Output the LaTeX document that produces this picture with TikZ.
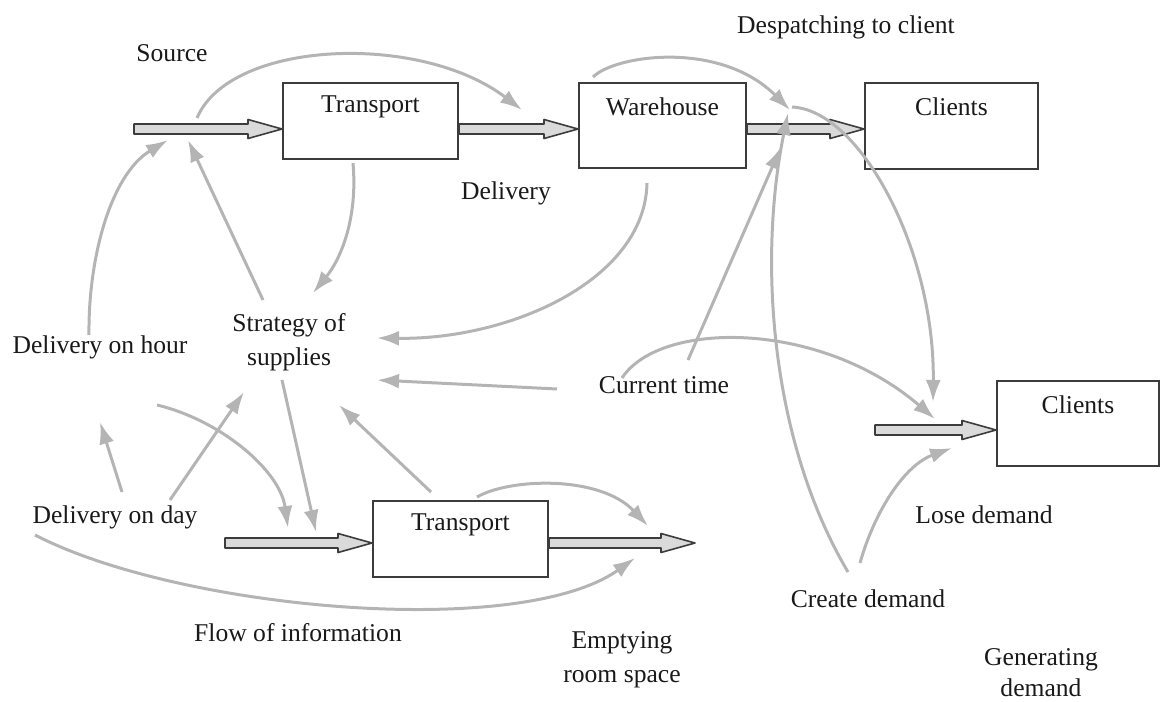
\documentclass[tikz,border=0pt]{standalone}
\usepackage{fontspec}
\setmainfont{Liberation Serif}
\usetikzlibrary{arrows.meta,calc}
\definecolor{linkgray}{HTML}{B4B4B4}
\definecolor{boxline}{HTML}{3C3C3C}
\definecolor{pipefill}{HTML}{DADADA}
% thick flow pipe from #1 to #2 (horizontal)
\newcommand{\flowarrow}[2]{%
  \draw[pipe] ($(#1)+(0,-5)$) -- ($(#2)+(-34,-5)$) -- ($(#2)+(-34,-9.5)$) -- (#2)
    -- ($(#2)+(-34,9.5)$) -- ($(#2)+(-34,5)$) -- ($(#1)+(0,5)$) -- cycle;}
\begin{document}
\begin{tikzpicture}[x=0.5pt, y=-0.5pt,
  font=\fontsize{12.8}{17}\selectfont,
  stock/.style={draw=boxline, line width=1pt, inner sep=0pt},
  boxtitle/.style={anchor=center, yshift=-12.5pt, text=black!90},
  pipe/.style={draw=boxline, fill=pipefill, line width=0.8pt, line join=round},
  link/.style={draw=linkgray, line width=1.5pt, -{Latex[length=11pt, width=7.5pt]}},
  lbl/.style={align=center, text=black!90}]
\useasboundingbox (0,0) rectangle (1160,701);

% stocks
\node[stock, minimum width=87.5pt, minimum height=38pt, label={[boxtitle]north:Transport}] (trans1) at (370.5,121) {};
\node[stock, minimum width=83.5pt, minimum height=42.5pt, label={[boxtitle]north:Warehouse}] (store) at (662.5,125.5) {};
\node[stock, minimum width=86.5pt, minimum height=43pt, label={[boxtitle]north:Clients}] (clients) at (951.5,126) {};
\node[stock, minimum width=81pt, minimum height=42.5pt, label={[boxtitle]north:Clients}] (lost) at (1078,423.5) {};
\node[stock, minimum width=87.5pt, minimum height=38pt, label={[boxtitle]north:Transport}] (trans2) at (460.5,539) {};

% labels
\node[lbl] (source) at (172,53) {Source};
\node[lbl] (despatch) at (846,27) {Despatching to client};
\node[lbl] (delivery) at (506,193) {Delivery};
\node[lbl] (strategy) at (289,342) {Strategy of\\supplies};
\node[lbl] (onhour) at (100,347) {Delivery on hour};
\node[lbl] (curtime) at (664,385) {Current time};
\node[lbl] (onday) at (115,517) {Delivery on day};
\node[lbl] (info) at (298,633) {Flow of information};
\node[lbl] (emptying) at (622,660) {Emptying\\room space};
\node[lbl] (create) at (868,599) {Create demand};
\node[lbl] (lose) at (984,515) {Lose demand};
\node[lbl, font=\fontsize{12.8}{15.5}\selectfont] (generate) at (1041,673) {Generating\\demand};

% flows
\coordinate (src) at (134,129);
\coordinate (t1in) at (trans1.west |- src);
\coordinate (t1out) at (trans1.east |- src);
\coordinate (whin) at (store.west |- src);
\coordinate (whout) at (store.east |- src);
\coordinate (clin) at (clients.west |- src);
\coordinate (demsrc) at (875,430);
\coordinate (demin) at (lost.west |- demsrc);
\coordinate (t2src) at (225,543);
\coordinate (t2in) at (trans2.west |- t2src);
\coordinate (t2out) at (trans2.east |- t2src);
\coordinate (drain) at (695,543);
\flowarrow{src}{t1in}
\flowarrow{t1out}{whin}
\flowarrow{whout}{clin}
\flowarrow{demsrc}{demin}
\flowarrow{t2src}{t2in}
\flowarrow{t2out}{drain}

% link ends
\coordinate (srctap) at (197,118);
\coordinate (dlvtip) at (522,110);
\coordinate (whtop) at (593,77);
\coordinate (desptip) at (790,110);
\coordinate (despout) at (792,107);
\coordinate (losetop) at (933,402);
\coordinate (timeup) at (688,360);
\coordinate (desptip2) at (781,147);
\coordinate (createup) at (848,572);
\coordinate (desptip3) at (788,113);
\coordinate (timearc) at (622,378);
\coordinate (losetip) at (935,419);
\coordinate (createright) at (860,563);
\coordinate (losebelow) at (952,448);
\coordinate (whbottom) at (647,183);
\coordinate (stratin1) at (377,338);
\coordinate (timeleft) at (557,389);
\coordinate (stratin2) at (377,380);
\coordinate (t2top) at (431,492);
\coordinate (stratin3) at (339,405);
\coordinate (stratdown) at (282,380);
\coordinate (t2tap) at (316,532);
\coordinate (stratup) at (263,300);
\coordinate (srctip) at (188,140);
\coordinate (hourup) at (89,335);
\coordinate (srctip2) at (168,140);
\coordinate (t1bottom) at (353,163);
\coordinate (stratin4) at (313,293);
\coordinate (dayup) at (122,492);
\coordinate (hourtip) at (100,422);
\coordinate (dayright) at (170,500);
\coordinate (stratin5) at (244,392);
\coordinate (hourdown) at (157,405);
\coordinate (t2tap2) at (288,528);
\coordinate (daydown) at (35,535);
\coordinate (draintip) at (635,558);
\coordinate (t2arc) at (477,497);
\coordinate (draintip2) at (648,526);

% links
\draw[link] (srctap) .. controls (230,40) and (420,32) .. (dlvtip);
\draw[link] (whtop) .. controls (615,55) and (720,40) .. (desptip);
\draw[link] (despout) .. controls (860,110) and (935,250) .. (losetop);
\draw[link] (timeup) -- (desptip2);
\draw[link] (createup) .. controls (770,440) and (758,260) .. (desptip3);
\draw[link] (timearc) .. controls (660,320) and (820,320) .. (losetip);
\draw[link] (createright) .. controls (875,510) and (905,465) .. (losebelow);
\draw[link] (whbottom) .. controls (645,280) and (510,340) .. (stratin1);
\draw[link] (timeleft) -- (stratin2);
\draw[link] (t2top) -- (stratin3);
\draw[link] (stratdown) -- (t2tap);
\draw[link] (stratup) -- (srctip);
\draw[link] (hourup) .. controls (88,260) and (110,175) .. (srctip2);
\draw[link] (t1bottom) .. controls (358,220) and (340,260) .. (stratin4);
\draw[link] (dayup) -- (hourtip);
\draw[link] (dayright) -- (stratin5);
\draw[link] (hourdown) .. controls (220,420) and (280,470) .. (t2tap2);
\draw[link] (daydown) .. controls (180,610) and (520,640) .. (draintip);
\draw[link] (t2arc) .. controls (510,478) and (600,475) .. (draintip2);
\end{tikzpicture}
\end{document}
